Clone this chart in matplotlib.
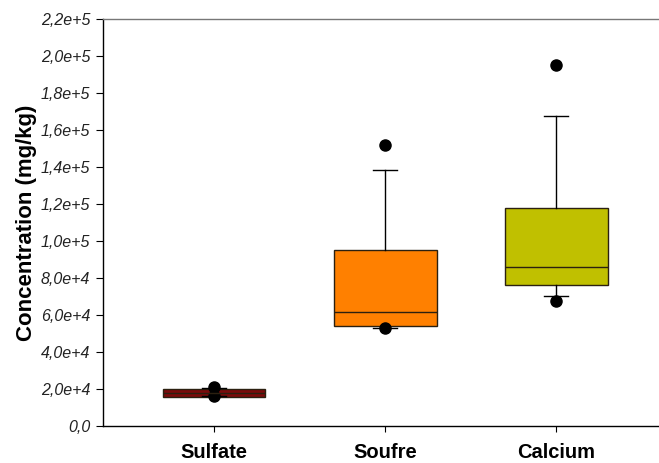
import matplotlib
matplotlib.use('Agg')
import matplotlib.pyplot as plt
from matplotlib.ticker import FuncFormatter

plt.rcParams['font.family'] = ['Liberation Sans', 'DejaVu Sans']

# values (mg/kg)
categories = ['Sulfate', 'Soufre', 'Calcium']
q1 = [15400, 54000, 76300]
medians = [18000, 61600, 86000]
q3 = [19900, 94900, 118000]
whisker_lo = [16200, 53100, 70100]
whisker_hi = [20500, 138200, 167500]
outliers = [[21000, 16000], [151900, 53000], [195100, 67800]]
colors = ['#7b0a0a', '#ff8000', '#c0c000']


def sci_comma(v, pos):
    if v == 0:
        return '0,0'
    s = '%.1e' % v
    mant, exp = s.split('e')
    return mant.replace('.', ',') + 'e' + ('%+d' % int(exp))


stats = []
for i, name in enumerate(categories):
    stats.append(dict(label=name, q1=q1[i], med=medians[i], q3=q3[i],
                      whislo=whisker_lo[i], whishi=whisker_hi[i],
                      fliers=outliers[i]))

fig = plt.figure(figsize=(6.59, 4.63), dpi=100)
ax = fig.add_axes([0.156, 0.080, 0.844, 0.879])

bp = ax.bxp(stats, positions=[1, 2, 3], widths=0.6, patch_artist=True,
            capwidths=0.14,
            boxprops=dict(edgecolor='#2b2010', linewidth=1.0),
            medianprops=dict(color='#2b2010', linewidth=1.0),
            whiskerprops=dict(color='black', linewidth=1.0),
            capprops=dict(color='black', linewidth=1.0),
            flierprops=dict(marker='o', markerfacecolor='black',
                            markeredgecolor='black', markersize=8))
for patch, c in zip(bp['boxes'], colors):
    patch.set_facecolor(c)

ax.set_xlim(0.35, 3.6)
ax.set_ylim(0, 220000)
ax.set_yticks(range(0, 220001, 20000))
ax.yaxis.set_major_formatter(FuncFormatter(sci_comma))
for lab in ax.get_yticklabels():
    lab.set_fontstyle('italic')
    lab.set_fontsize(11.5)
    lab.set_color('#222222')
ax.set_xticks([1, 2, 3])
ax.set_xticklabels(categories, fontsize=14.5, fontweight='bold')
ax.tick_params(axis='x', length=4, pad=8)
ax.tick_params(axis='y', length=5, pad=4)

ax.set_ylabel('Concentration (mg/kg)', fontsize=16, fontweight='bold', labelpad=3)

ax.spines['right'].set_visible(False)
ax.spines['top'].set_color('#777777')
for s in ['left', 'bottom', 'top']:
    ax.spines[s].set_linewidth(1.0)

fig.savefig('out.png', dpi=100)
